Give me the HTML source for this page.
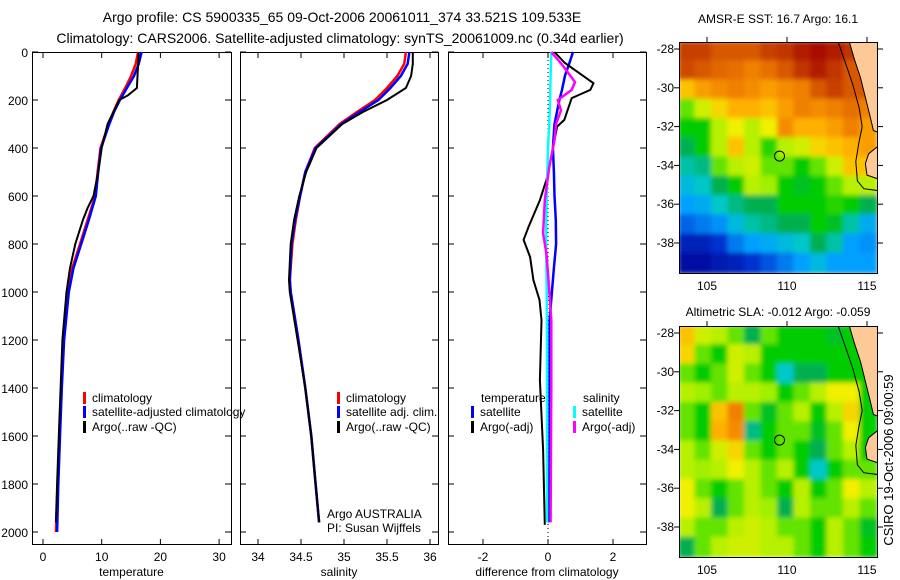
<!DOCTYPE html>
<html><head><meta charset="utf-8"><style>
body{margin:0;background:#fff}
svg{display:block;font-family:"Liberation Sans",sans-serif}
text{fill:#000}
</style></head><body>
<svg id="fig" width="900" height="580" viewBox="0 0 900 580">
<defs><filter id="bl" x="0" y="0" width="1" height="1"><feGaussianBlur stdDeviation="2.5"/></filter>
<clipPath id="c1"><rect x="679" y="42" width="198" height="231"/></clipPath>
<clipPath id="c2"><rect x="679" y="326" width="198" height="231"/></clipPath></defs>
<text x="342" y="22" font-size="14" text-anchor="middle">Argo profile: CS 5900335_65 09-Oct-2006 20061011_374 33.521S 109.533E</text>
<text x="340" y="43" font-size="14" text-anchor="middle">Climatology: CARS2006. Satellite-adjusted climatology: synTS_20061009.nc (0.34d earlier)</text>
<text x="778" y="23" font-size="12" text-anchor="middle">AMSR-E SST: 16.7 Argo: 16.1</text>
<text x="778" y="316" font-size="12" text-anchor="middle">Altimetric SLA: -0.012 Argo: -0.059</text>
<text transform="translate(893,460) rotate(-90)" font-size="13" text-anchor="middle">CSIRO 19-Oct-2006 09:00:59</text>
<g id="g"></g>
</svg>
<script>
// ---- profile data ----
const pTclim=[0,50,100,150,200,250,300,400,500,600,700,800,900,1000,1200,1400,1600,1800,2000];
const tClim=[16.2,15.8,15.0,14.0,12.9,12.0,11.2,9.8,9.3,8.9,7.6,6.3,5.0,4.2,3.5,3.1,2.8,2.5,2.2];
const tSat=[16.8,16.3,15.5,14.3,13.1,12.1,11.3,9.9,9.4,9.0,7.8,6.5,5.2,4.4,3.6,3.2,2.9,2.6,2.4];
const pTargo=[0,50,100,150,180,200,250,300,400,500,600,650,700,800,900,1000,1200,1400,1600,1800,1960];
const tArgo=[16.3,16.2,16.1,16.0,14.5,13.0,12.0,11.0,10.0,9.4,8.6,7.6,6.8,5.5,4.6,4.0,3.3,3.0,2.7,2.4,2.2];
const pS=[0,50,100,150,200,250,300,400,500,600,700,800,950,1000,1200,1400,1600,1800,1960];
const sClim=[35.72,35.7,35.62,35.5,35.36,35.15,34.95,34.66,34.55,34.49,34.44,34.4,34.37,34.38,34.47,34.55,34.62,34.67,34.71];
const sSat=[35.76,35.74,35.66,35.54,35.4,35.18,34.97,34.67,34.55,34.49,34.43,34.39,34.37,34.38,34.47,34.55,34.62,34.67,34.71];
const pSargo=[0,50,100,150,200,250,300,400,500,600,700,800,950,1000,1200,1400,1600,1800,1960];
const sArgo=[35.8,35.8,35.78,35.72,35.5,35.22,34.98,34.68,34.56,34.48,34.42,34.38,34.36,34.37,34.46,34.55,34.62,34.67,34.71];
const pDT=[0,50,100,158,200,300,400,500,600,700,800,900,1000,1117,1200,1400,1600,1800,1960];
const dTsat=[0.77,0.65,0.52,0.43,0.35,0.2,0.15,0.18,0.2,0.24,0.25,0.18,0.12,0.05,0.05,0.05,0.05,0.04,0.04];
const pDTa=[0,46,130,158,192,283,311,437,533,617,729,783,854,950,1033,1117,1367,1658,1970];
const dTargo=[0.2,0.52,1.4,1.3,0.73,0.5,0.28,0.1,-0.05,-0.25,-0.6,-0.75,-0.55,-0.45,-0.26,-0.2,-0.25,-0.15,-0.1];
const pDS=[0,100,200,300,400,600,800,900,1000,1200,1500,1800,1960];
const dSsat=[0.1,0.08,0.06,0.04,0.0,-0.04,-0.06,-0.05,-0.04,-0.03,-0.03,-0.03,-0.03];
const pDSa=[0,50,125,158,200,243,299,367,478,617,756,840,922,1117,1400,1700,1960];
const dSargo=[0.1,0.42,0.83,0.73,0.3,0.4,0.25,0.2,0.04,-0.1,-0.15,-0.05,0.0,0.1,0.1,0.09,0.08];
const depthTicks=[0,200,400,600,800,1000,1200,1400,1600,1800,2000];
const tTicks=[0,10,20,30], sTicks=[34,34.5,35,35.5,36], sTickLabels=["34","34.5","35","35.5","36"], dTicks=[-2,0,2];
// ---- map data (colour index 0..1) ----
const lonTicks=[105,110,115], latTicks=[-28,-30,-32,-34,-36,-38];
const sst=[
[0.88,0.88,0.85,0.85,0.85,0.88,0.9,0.95,0.97,0.95,0.9,0.9],
[0.87,0.85,0.83,0.82,0.8,0.82,0.85,0.9,0.95,0.9,0.85,0.85],
[0.7,0.75,0.78,0.8,0.78,0.75,0.78,0.8,0.85,0.88,0.85,0.85],
[0.55,0.62,0.68,0.72,0.72,0.7,0.75,0.8,0.78,0.8,0.82,0.8],
[0.5,0.5,0.6,0.65,0.6,0.65,0.78,0.72,0.72,0.75,0.8,0.75],
[0.45,0.5,0.6,0.7,0.6,0.52,0.6,0.62,0.68,0.7,0.72,0.75],
[0.4,0.42,0.55,0.6,0.62,0.55,0.55,0.5,0.55,0.62,0.7,0.7],
[0.35,0.38,0.45,0.5,0.6,0.58,0.5,0.48,0.5,0.55,0.6,0.6],
[0.3,0.32,0.38,0.42,0.45,0.45,0.5,0.5,0.5,0.52,0.5,0.45],
[0.22,0.25,0.28,0.35,0.4,0.42,0.45,0.45,0.5,0.48,0.4,0.32],
[0.1,0.1,0.15,0.25,0.3,0.32,0.35,0.38,0.45,0.4,0.3,0.28],
[0.05,0.05,0.08,0.1,0.15,0.2,0.25,0.3,0.35,0.3,0.3,0.3]];
const sla=[
[0.7,0.62,0.6,0.55,0.45,0.55,0.5,0.5,0.5,0.48,0.5,0.5],
[0.68,0.55,0.5,0.62,0.6,0.5,0.5,0.5,0.5,0.5,0.5,0.5],
[0.55,0.5,0.55,0.62,0.55,0.5,0.38,0.45,0.45,0.5,0.5,0.5],
[0.6,0.58,0.55,0.6,0.6,0.58,0.5,0.55,0.6,0.65,0.65,0.5],
[0.55,0.5,0.7,0.8,0.55,0.48,0.55,0.6,0.5,0.6,0.68,0.5],
[0.55,0.5,0.72,0.78,0.42,0.5,0.55,0.55,0.48,0.55,0.65,0.5],
[0.6,0.55,0.62,0.68,0.55,0.5,0.55,0.5,0.45,0.55,0.6,0.5],
[0.6,0.58,0.6,0.65,0.6,0.55,0.6,0.5,0.38,0.5,0.55,0.55],
[0.65,0.55,0.5,0.55,0.6,0.55,0.5,0.6,0.5,0.55,0.65,0.6],
[0.65,0.6,0.45,0.55,0.6,0.58,0.45,0.6,0.55,0.55,0.6,0.55],
[0.6,0.55,0.55,0.6,0.62,0.6,0.55,0.55,0.5,0.6,0.55,0.48],
[0.45,0.55,0.6,0.62,0.62,0.6,0.6,0.55,0.5,0.6,0.55,0.5]];
const argoLon=109.533, argoLat=-33.521;
const landLon=[113.9,114.2,114.6,114.9,115.2,115.4,115.7,115.7];
const landLat=[-27.65,-28.5,-29.5,-30.5,-31.5,-32.2,-32.3,-27.65];
const land2Lon=[115.7,115.1,114.9,115.0,115.7];
const land2Lat=[-33.0,-33.4,-33.9,-34.5,-34.7];
const isoLon=[113.2,113.6,114.1,114.5,114.7,114.5,114.3,114.4,114.8,115.7];
const isoLat=[-27.65,-28.6,-29.8,-31.0,-32.0,-32.8,-33.8,-34.8,-35.2,-35.3];

const NS="http://www.w3.org/2000/svg", G=document.getElementById('g');
function el(t,a,p){const e=document.createElementNS(NS,t);for(const k in a)e.setAttribute(k,a[k]);(p||G).appendChild(e);return e;}
function txt(x,y,s,a,p){const e=el('text',Object.assign({x:x,y:y,'font-size':12},a||{}),p);e.textContent=s;return e;}
const Y=p=>52+0.24*p;
const panels=[
 {x0:32,x1:231,sx:v=>43+5.87*v,ticks:tTicks,labels:tTicks.map(String),xl:'temperature',name:'temperature-panel'},
 {x0:240,x1:438,sx:v=>258+86*(v-34),ticks:sTicks,labels:sTickLabels,xl:'salinity',name:'salinity-panel'},
 {x0:448,x1:646,sx:v=>548+32.5*v,ticks:dTicks,labels:dTicks.map(String),xl:'difference from climatology',name:'difference-panel'}];
panels.forEach((P,i)=>{
 const g=el('g',{});  
 el('rect',{x:P.x0+.5,y:52.5,width:P.x1-P.x0,height:492,fill:'none',stroke:'#000'},g);
 depthTicks.forEach(d=>{const y=Y(d);
  el('line',{x1:P.x0,x2:P.x0+6,y1:y,y2:y,stroke:'#000'},g);el('line',{x1:P.x1-6,x2:P.x1,y1:y,y2:y,stroke:'#000'},g);
  if(i==0){const t=txt(28,y+5,String(d),{'text-anchor':'end'},g);}});
 P.ticks.forEach((v,j)=>{const x=P.sx(v);
  el('line',{x1:x,x2:x,y1:52,y2:58,stroke:'#000'},g);el('line',{x1:x,x2:x,y1:539,y2:545,stroke:'#000'},g);
  const t=txt(x,561,P.labels[j],{'text-anchor':'middle'},g);});
 const xl=txt((P.x0+P.x1)/2,576,P.xl,{'text-anchor':'middle'},g);
 P.g=g;});
function prof(P,ps,vs,col,name,w){const d=ps.map((p,k)=>(k?'L':'M')+P.sx(vs[k]).toFixed(1)+','+Y(p).toFixed(1)).join('');
 const e=el('path',{d:d,fill:'none',stroke:col,'stroke-width':w||2.5},P.g);}
el('line',{x1:548,x2:548,y1:52,y2:545,stroke:'#000','stroke-dasharray':'1,3'},panels[2].g);
prof(panels[0],pTclim,tClim,'#f00','temp-climatology-line');prof(panels[0],pTclim,tSat,'#00f','temp-satellite-line');prof(panels[0],pTargo,tArgo,'#000','temp-argo-line',2);
prof(panels[1],pS,sClim,'#f00','sal-climatology-line');prof(panels[1],pS,sSat,'#00f','sal-satellite-line');prof(panels[1],pSargo,sArgo,'#000','sal-argo-line',2);
prof(panels[2],pDT,dTsat,'#00f','dtemp-satellite-line');prof(panels[2],pDTa,dTargo,'#000','dtemp-argo-line',2);
prof(panels[2],pDS,dSsat,'#0ff','dsal-satellite-line');prof(panels[2],pDSa,dSargo,'#f0f','dsal-argo-line');
function leg(g,x,y,col,s){const e=el('g',{},g);
 el('rect',{x:x,y:y-10,width:3,height:12,fill:col},e);txt(x+9,y,s,{},e);}
leg(panels[0].g,83,402,'#f00','climatology');leg(panels[0].g,83,416,'#00f','satellite-adjusted climatology');leg(panels[0].g,83,431,'#000','Argo(..raw -QC)');
leg(panels[1].g,337,402,'#f00','climatology');leg(panels[1].g,337,416,'#00f','satellite adj. clim.');leg(panels[1].g,337,431,'#000','Argo(..raw -QC)');
txt(481,402,'temperature',{},panels[2].g);txt(583,402,'salinity',{},panels[2].g);
leg(panels[2].g,471,416,'#00f','satellite');leg(panels[2].g,471,431,'#000','Argo(-adj)');
leg(panels[2].g,573,416,'#0ff','satellite');leg(panels[2].g,573,431,'#f0f','Argo(-adj)');
txt(327,518,'Argo AUSTRALIA',{},panels[1].g);txt(327,532,'PI: Susan Wijffels',{},panels[1].g);
// maps
const cStops=[[0,[0,0,140]],[0.15,[0,48,208]],[0.3,[0,160,255]],[0.38,[0,200,200]],[0.45,[0,176,80]],[0.5,[0,204,0]],[0.58,[160,240,0]],[0.65,[240,240,0]],[0.72,[255,176,0]],[0.8,[240,128,0]],[0.88,[200,64,0]],[1,[160,0,0]]];
function cmap(v){for(let k=1;k<cStops.length;k++){const a=cStops[k-1],b=cStops[k];if(v<=b[0]){const f=(v-a[0])/(b[0]-a[0]);return 'rgb('+a[1].map((c,i)=>Math.round(c+f*(b[1][i]-c))).join(',')+')';}}return 'rgb(160,0,0)';}
function drawMap(top,grid,clip,name){
 const g=el('g',{});
 const LX=lon=>707+16*(lon-105), LY=lat=>top+7+19.4*(-28-lat);
 const cg=el('g',{'clip-path':`url(#${clip})`},g);const fg=el('g',{filter:'url(#bl)'},cg);
 const cw=198/12, ch=231/12;
 grid.forEach((row,r)=>row.forEach((v,c)=>{const e=el('rect',{x:679+c*cw-1,y:top+r*ch-1,width:cw+2,height:ch+2,fill:cmap(v)},fg);}));
 const pts=(a,b)=>a.map((v,k)=>LX(v).toFixed(1)+','+LY(b[k]).toFixed(1)).join(' ');
 el('polygon',{points:pts(landLon,landLat),fill:'#fdc997',stroke:'#000'},cg);
 el('polygon',{points:pts(land2Lon,land2Lat),fill:'#fdc997',stroke:'#000'},cg);
 el('polyline',{points:pts(isoLon,isoLat),fill:'none',stroke:'#000'},cg);
 const m=el('circle',{cx:LX(argoLon),cy:LY(argoLat),r:5,fill:'none',stroke:'#000'},g);
 el('rect',{x:679.5,y:top+.5,width:198,height:231,fill:'none',stroke:'#000'},g);
 lonTicks.forEach(l=>{const x=LX(l);el('line',{x1:x,x2:x,y1:top-5,y2:top,stroke:'#000'},g);txt(x,top+248,String(l),{'text-anchor':'middle'},g);});
 latTicks.forEach(l=>{const y=LY(l);el('line',{x1:674,x2:679,y1:y,y2:y,stroke:'#000'},g);el('line',{x1:878,x2:883,y1:y,y2:y,stroke:'#000'},g);txt(674,y+4,String(l),{'text-anchor':'end'},g);});}
drawMap(42,sst,'c1','sst-map');drawMap(326,sla,'c2','sla-map');
</script>
</body></html>
